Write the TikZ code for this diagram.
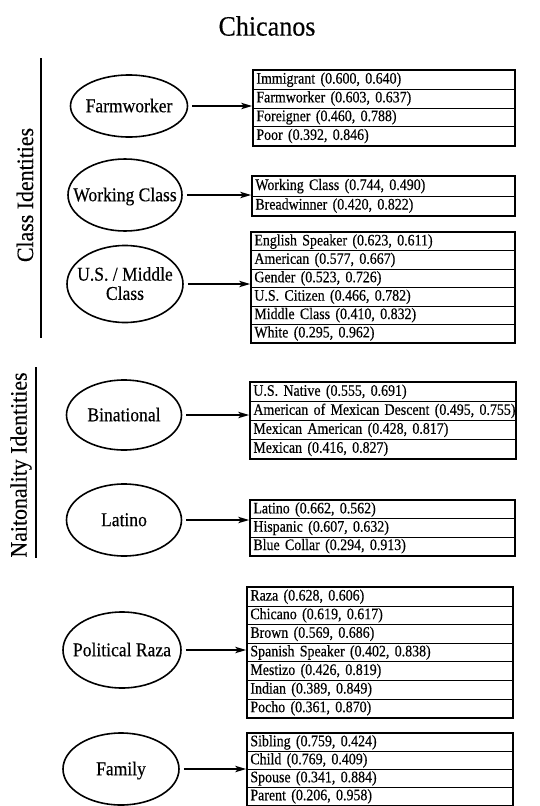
\documentclass[tikz,border=0pt]{standalone}
\usepackage{fontspec}
\setmainfont{Liberation Serif}
\newfontfamily\rowfont[FakeStretch=0.87,FakeBold=0.4]{Liberation Serif}
\newfontfamily\ellfont[FakeStretch=0.9,FakeBold=0.4]{Liberation Serif}
\newfontfamily\bigfont[FakeStretch=0.93,FakeBold=0.3]{Liberation Serif}
\usetikzlibrary{fit,arrows.meta,shapes.geometric}
\tikzset{
  rowbox/.style={draw, line width=0.8pt, rectangle, anchor=north west, inner xsep=3pt, inner ysep=0pt,
    align=left, font=\rowfont\fontsize{16}{17}\selectfont},
  outerbox/.style={draw, line width=1.8pt, rectangle, inner sep=0pt},
  ell/.style={draw, ellipse, line width=1.6pt, inner sep=0pt,
    font=\ellfont\fontsize{19.5}{19}\selectfont},
  arr/.style={line width=1.3pt, -{Stealth[length=11pt,width=6.5pt,inset=3pt]}},
  sidelabel/.style={rotate=90, font=\bigfont\fontsize{23.5}{24}\selectfont},
  sideline/.style={line width=1.5pt},
}
\newcommand\elltext[1]{\raisebox{-7.5pt}[0pt][0pt]{\makebox[0pt]{\begin{tabular}{@{}c@{}}#1\end{tabular}}}}
\newcommand\mkbox[7]{% name, x, ytop, width, rowh, N, entries
  \foreach \t [count=\i] in {#7} {
    \node[rowbox, minimum width=#4pt, text width={#4pt-6pt}, minimum height=#5pt] (#1r\i) at ({#2},{#3+(\i-1)*#5}) {\mbox{\t}};
  }
  \node[outerbox, fit=(#1r1)(#1r#6)] (#1) {};
}
\begin{document}
\begin{tikzpicture}[x=1pt,y=-1pt]
\useasboundingbox (0,0) rectangle (540,806);
\node[font=\bigfont\fontsize{28}{28}\selectfont] (title) at (267,26) {Chicanos};
% side labels
\node[sidelabel] (cls) at (25,195) {Class Identities};
\coordinate (c1) at (41,58); \coordinate (c2) at (41,338);
\draw[sideline] (c1) -- (c2);
\node[sidelabel] (nat) at (21,465) {Naitonality Identities};
\coordinate (n1) at (36,367); \coordinate (n2) at (36,558);
\draw[sideline] (n1) -- (n2);
% ellipses
\node[ell, minimum width=117pt, minimum height=62pt] (e1) at (129,106) {\elltext{Farmworker}};
\node[ell, minimum width=114pt, minimum height=72pt] (e2) at (125,195) {\elltext{Working Class}};
\node[ell, minimum width=116pt, minimum height=77pt] (e3) at (125,284) {\elltext{U.S. / Middle\\Class}};
\node[ell, minimum width=115pt, minimum height=70pt] (e4) at (124,415) {\elltext{Binational}};
\node[ell, minimum width=115pt, minimum height=72pt] (e5) at (124,520) {\elltext{Latino}};
\node[ell, minimum width=118pt, minimum height=76pt] (e6) at (122,650) {\elltext{Political Raza}};
\node[ell, minimum width=116pt, minimum height=72pt] (e7) at (121,769) {\elltext{Family}};
% boxes
\mkbox{b1}{253}{70}{261}{18.75}{4}{{Immigrant (0.600, 0.640)},{Farmworker (0.603, 0.637)},{Foreigner (0.460, 0.788)},{Poor (0.392, 0.846)}}
\mkbox{b2}{252}{176}{262}{19.5}{2}{{Working Class (0.744, 0.490)},{Breadwinner (0.420, 0.822)}}
\mkbox{b3}{251}{232}{263}{18.4}{6}{{English Speaker (0.623, 0.611)},{American (0.577, 0.667)},{Gender (0.523, 0.726)},{U.S. Citizen (0.466, 0.782)},{Middle Class (0.410, 0.832)},{White (0.295, 0.962)}}
\mkbox{b4}{250}{382}{265}{19}{4}{{U.S. Native (0.555, 0.691)},{American of Mexican Descent (0.495, 0.755)},{Mexican American (0.428, 0.817)},{Mexican (0.416, 0.827)}}
\mkbox{b5}{250}{500}{264}{18.3}{3}{{Latino (0.662, 0.562)},{Hispanic (0.607, 0.632)},{Blue Collar (0.294, 0.913)}}
\mkbox{b6}{247}{587}{265}{18.6}{7}{{Raza (0.628, 0.606)},{Chicano (0.619, 0.617)},{Brown (0.569, 0.686)},{Spanish Speaker (0.402, 0.838)},{Mestizo (0.426, 0.819)},{Indian (0.389, 0.849)},{Pocho (0.361, 0.870)}}
\mkbox{b7}{247}{733}{265}{18}{4}{{Sibling (0.759, 0.424)},{Child (0.769, 0.409)},{Spouse (0.341, 0.884)},{Parent (0.206, 0.958)}}
% arrows
\foreach \k in {1,...,7} {
  \draw[arr] ([xshift=4pt]e\k.east) -- (e\k.east -| b\k.west);
}
\end{tikzpicture}
\end{document}
